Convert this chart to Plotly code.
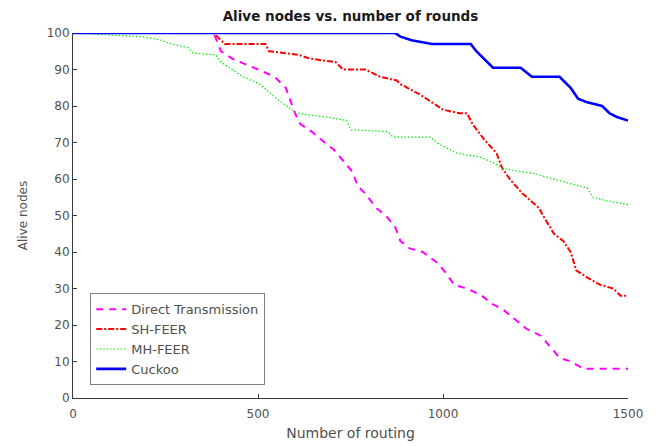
import plotly.graph_objects as go

# ---- data ----
dt_x = [0, 380, 400, 430, 500, 545, 575, 585, 600, 615, 645, 680, 705, 730, 755, 770, 790, 820,
        845, 870, 885, 910, 945, 985, 1010, 1030, 1065, 1105, 1130, 1165, 1200, 1225, 1265, 1290,
        1315, 1345, 1380, 1500]
dt_y = [100, 100, 95, 93, 90, 88, 85, 82, 78, 75, 73, 70, 68, 65, 62, 58, 56, 52,
        50, 47, 43, 41, 40, 37, 34, 31, 30, 28, 26, 24, 21, 19, 17, 14,
        11, 10, 8, 8]

sh_x = [0, 380, 410, 520, 530, 610, 640, 710, 730, 790, 830, 875, 885, 940, 1000, 1045, 1065,
        1080, 1110, 1145, 1160, 1180, 1215, 1260, 1270, 1300, 1325, 1345, 1360, 1390, 1425, 1460,
        1480, 1500]
sh_y = [100, 100, 97, 97, 95, 94, 93, 92, 90, 90, 88, 87, 86, 83, 79, 78, 78,
        75, 71, 67, 63, 60, 56, 52, 50, 45, 43, 40, 35, 33, 31, 30,
        28, 28]

mh_x = [0, 185, 240, 265, 310, 325, 385, 400, 460, 505, 550, 605, 640, 685, 740, 750, 850, 865,
        965, 990, 1040, 1100, 1135, 1160, 1180, 1245, 1280, 1335, 1390, 1405, 1445, 1500]
mh_y = [100, 99, 98, 97, 96, 94.5, 94, 92, 88, 86, 82, 78, 77.5, 77, 76, 73.5, 73, 71.5,
        71.5, 69.5, 67, 66, 64.5, 63, 62.5, 61.5, 60.5, 59, 57.5, 55, 54, 53]

ck_x = [0, 870, 885, 915, 970, 1075, 1090, 1120, 1135, 1210, 1240, 1315, 1345, 1365, 1390, 1430,
        1450, 1470, 1500]
ck_y = [100, 100, 99, 98, 97, 97, 95, 92, 90.5, 90.5, 88, 88, 85, 82, 81, 80,
        78, 77, 76]

x_ticks = [0, 500, 1000, 1500]
y_ticks = [0, 10, 20, 30, 40, 50, 60, 70, 80, 90, 100]

FONT = "DejaVu Sans"
AX = "#3a3a3a"
LBL = "#505050"

# the page body adds an 8px offset, so the figure is 8px smaller than the window
W, H = 652, 438

fig = go.Figure()
fig.add_trace(go.Scatter(x=dt_x, y=dt_y, mode="lines", name="Direct Transmission",
                         line=dict(color="#ff00ff", width=2, dash="7px,6px"), cliponaxis=False))
fig.add_trace(go.Scatter(x=sh_x, y=sh_y, mode="lines", name="SH-FEER",
                         line=dict(color="#ff0000", width=2, dash="6px,2px,2px,2px"), cliponaxis=False))
fig.add_trace(go.Scatter(x=mh_x, y=mh_y, mode="lines", name="MH-FEER",
                         line=dict(color="#00ee00", width=1.2, dash="1.5px,2px"), cliponaxis=False))
fig.add_trace(go.Scatter(x=ck_x, y=ck_y, mode="lines", name="Cuckoo",
                         line=dict(color="#0000ff", width=2.6), cliponaxis=False))

fig.update_layout(
    width=W, height=H,
    margin=dict(l=65, r=32, t=25, b=48, autoexpand=False),
    paper_bgcolor="white", plot_bgcolor="white",
    font=dict(family=FONT, color=LBL, size=12),
    title=dict(text="<b>Alive nodes vs. number of rounds</b>", x=0.5, xref="paper",
               y=1 - 8 / H, yref="container", yanchor="middle",
               font=dict(family=FONT, size=13.5, color="#1a1a1a")),
    showlegend=True,
    legend=dict(x=0.031, y=0.035, xanchor="left", yanchor="bottom",
                bgcolor="white", bordercolor="#808080", borderwidth=1,
                font=dict(family=FONT, size=13, color=LBL),
                tracegroupgap=0),
    xaxis=dict(range=[0, 1500], tickvals=x_ticks, ticktext=[str(v) for v in x_ticks],
               showline=True, linecolor=AX, linewidth=1, mirror=False, automargin=False,
               ticks="inside", ticklen=4, tickcolor=AX, showgrid=False, zeroline=False,
               ticklabelstandoff=5,
               tickfont=dict(family=FONT, size=12, color=LBL),
               title=dict(text="Number of routing", standoff=7,
                          font=dict(family=FONT, size=14, color=LBL))),
    yaxis=dict(range=[0, 100], tickvals=y_ticks, ticktext=[str(v) for v in y_ticks],
               showline=True, linecolor=AX, linewidth=1, mirror=False, automargin=False,
               ticks="inside", ticklen=4, tickcolor=AX, showgrid=False, zeroline=False,
               tickfont=dict(family=FONT, size=12, color=LBL),
               title=dict(text="Alive nodes", standoff=16,
                          font=dict(family=FONT, size=12, color=LBL))),
)

fig.write_html("out.html")
